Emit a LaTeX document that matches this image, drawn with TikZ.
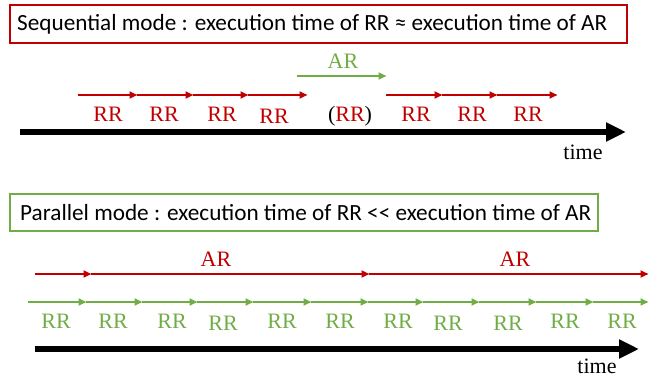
\documentclass[tikz,border=0pt]{standalone}
\usepackage{fontspec}
\setmainfont{Liberation Serif}
\newfontfamily\boxfont{Carlito}
\usetikzlibrary{arrows.meta}
\definecolor{rred}{HTML}{C00000}
\definecolor{rgreen}{HTML}{70AD47}
\begin{document}
\begin{tikzpicture}[x=1pt,y=-1pt,
  lbl/.style={font=\fontsize{22}{22}\selectfont, inner sep=0pt},
  boxtext/.style={font=\boxfont\fontsize{23.2}{23.2}\selectfont, inner sep=0pt, anchor=west},
  seg/.style={line width=2.5pt, -{Triangle[length=8pt 0 0,width=7pt 0 0]}, shorten >=-0.5pt},
  bigarrow/.style={line width=6.5pt, -{Triangle[length=20pt 0 0,width=18pt 0 0]}},
  frame/.style={draw, line width=2pt}]
\useasboundingbox (0,0) rectangle (650,377);

% ---------- Sequential mode ----------
\draw[frame, rred] (10,5) rectangle (627,43);
\node[boxtext] (seqtitle) at (17,24) {Sequential mode : execution time of RR ≈ execution time of AR};

\node[lbl, text=rgreen] (arTop) at (343,61) {AR};
\coordinate (ga) at (297,76);
\coordinate (gb) at (386,76);
\draw[seg, rgreen] (ga) -- (gb);

\foreach \i/\x in {1/78,2/137,3/193,4/248,5/307}
  \coordinate (sa\i) at (\x,95);
\foreach \i/\x in {1/386,2/442,3/497,4/557}
  \coordinate (sb\i) at (\x,95);
\foreach \a/\b in {1/2,2/3,3/4,4/5}
  \draw[seg, rred] (sa\a) -- (sa\b);
\foreach \a/\b in {1/2,2/3,3/4}
  \draw[seg, rred] (sb\a) -- (sb\b);

\foreach \i/\x/\y in {1/108/114,2/164/114,3/222/114,4/274/116,6/416/114,7/472/114,8/528/114}
  \node[lbl, text=rred] (srr\i) at (\x,\y) {RR};
\node[lbl] (srr5) at (350,116) {(\textcolor{rred}{RR})};

\coordinate (t1s) at (20,132);
\coordinate (t1e) at (626,132);
\draw[bigarrow] (t1s) -- (t1e);
\node[lbl] (time1) at (583,152) {time};

% ---------- Parallel mode ----------
\draw[frame, rgreen] (10,194) rectangle (598,231);
\node[boxtext] (partitle) at (20,212.5) {Parallel mode : execution time of RR << execution time of AR};

\node[lbl, text=rred] (arB1) at (216,259) {AR};
\node[lbl, text=rred] (arB2) at (515,259) {AR};
\foreach \i/\x in {1/35,2/91,3/369,4/648}
  \coordinate (pr\i) at (\x,274);
\foreach \a/\b in {1/2,2/3,3/4}
  \draw[seg, rred] (pr\a) -- (pr\b);

\foreach \i/\x in {1/28,2/86,3/142,4/197,5/253,6/311,7/368,8/423,9/479,10/536,11/593,12/648}
  \coordinate (pg\i) at (\x,302);
\foreach \a/\b in {1/2,2/3,3/4,4/5,5/6,6/7,7/8,8/9,9/10,10/11,11/12}
  \draw[seg, rgreen] (pg\a) -- (pg\b);

\foreach \i/\x/\y in {1/56/321,2/113/321,3/172/321,4/223/323,5/282/321,6/340/321,7/398/321,8/448/323,9/508/323,10/565/321,11/622/321}
  \node[lbl, text=rgreen] (prr\i) at (\x,\y) {RR};

\coordinate (t2s) at (35,349);
\coordinate (t2e) at (639,349);
\draw[bigarrow] (t2s) -- (t2e);
\node[lbl] (time2) at (597,366) {time};
\end{tikzpicture}
\end{document}
